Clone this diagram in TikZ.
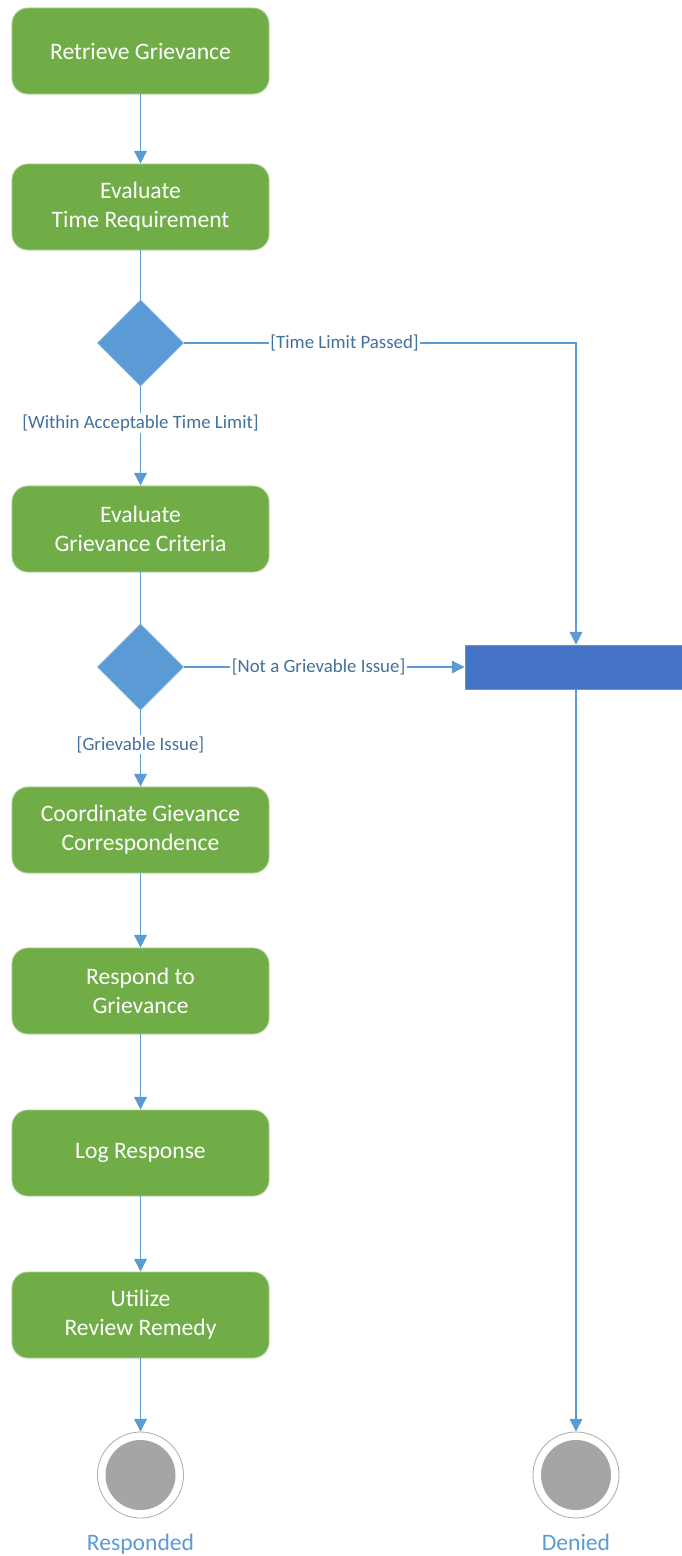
\documentclass[tikz,border=0pt]{standalone}
\usepackage{fontspec}
\setmainfont{Carlito}
\usetikzlibrary{shapes.geometric, arrows.meta, positioning, calc}
\usepackage{xcolor}
\definecolor{ActGreen}{HTML}{70AD47}
\definecolor{ActGreenEdge}{HTML}{A9D18E}
\definecolor{ActBlue}{HTML}{5B9BD5}
\definecolor{ActDarkBlue}{HTML}{4472C4}
\definecolor{ActLabel}{HTML}{41719C}
\definecolor{ActGray}{HTML}{A5A5A5}
\definecolor{ActRing}{HTML}{AFAFAF}
\tikzset{
    % Box styles
    activity/.style={
        rectangle,
        rounded corners=0.4cm,
        draw=ActGreenEdge,
        fill=ActGreen,
        line width=0.6pt,
        minimum width=6.425cm,
        minimum height=2.15cm,
        align=center,
        text=white,
        font=\fontsize{16.8}{20.6}\selectfont
    },
    decision/.style={
        diamond,
        draw=ActBlue!80,
        fill=ActBlue,
        minimum width=2.15cm,
        minimum height=2.15cm,
        inner sep=0pt
    },
    forkbar/.style={
        rectangle,
        draw=ActBlue,
        fill=ActDarkBlue,
        line width=0.6pt,
        minimum width=5.425cm,
        minimum height=1.1cm,
        inner sep=0pt
    },
    endstate/.style={
        circle,
        draw=ActRing,
        fill=white,
        line width=0.6pt,
        minimum size=2.15cm,
        inner sep=0pt,
        path picture={\fill[ActGray] (path picture bounding box.center) circle (0.875cm);}
    },
    endtext/.style={
        anchor=base,
        text=ActBlue,
        font=\fontsize{16.8}{20.6}\selectfont
    },
    guard/.style={
        fill=white,
        text=ActLabel,
        inner sep=1pt,
        font=\fontsize{13.4}{16}\selectfont
    },
    % Arrow styles
    arrow/.style={
        -{Triangle[width=9pt, length=9pt]},
        line width=0.75pt,
        draw=ActBlue
    },
    line/.style={
        line width=0.75pt,
        draw=ActBlue
    }
}
\begin{document}
\begin{tikzpicture}[x=0.025cm, y=-0.025cm]
    \useasboundingbox (0,0) rectangle (682,1556);

    \node[activity] (retrieve) at (140.5,51) {Retrieve Grievance};
    \node[activity] (evaltime) at (140.5,207) {Evaluate\\Time Requirement};
    \node[decision] (timecheck) at (140.5,343) {};
    \node[activity] (evalcrit) at (140.5,529) {Evaluate\\Grievance Criteria};
    \node[decision] (critcheck) at (140.5,667) {};
    \node[forkbar] (deny) at (573.5,667) {};
    \node[activity] (coord) at (140.5,830) {Coordinate Gievance\\Correspondence};
    \node[activity] (respond) at (140.5,991) {Respond to\\Grievance};
    \node[activity] (logresp) at (140.5,1153) {Log Response};
    \node[activity] (remedy) at (140.5,1315) {Utilize\\Review Remedy};

    \node[endstate] (responded) at (140.5,1475) {};
    \node[endstate] (denied) at (576,1475) {};
    \node[endtext] (respondedtext) at (140.5,1550) {Responded};
    \node[endtext] (deniedtext) at (576,1550) {Denied};

    \draw[arrow] (retrieve) -- (evaltime);
    \draw[line] (evaltime) -- (timecheck);
    \draw[arrow] (timecheck) -- node[guard, pos=0.37] {[Within Acceptable Time Limit]} (evalcrit);
    \draw[arrow] (timecheck) -- node[guard, pos=0.41] {[Time Limit Passed]} (timecheck -| denied) -- (deny.north -| denied);
    \draw[line] (evalcrit) -- (critcheck);
    \draw[arrow] (critcheck) -- node[guard, pos=0.48] {[Not a Grievable Issue]} (deny);
    \draw[arrow] (critcheck) -- node[guard, pos=0.45] {[Grievable Issue]} (coord);
    \draw[arrow] (coord) -- (respond);
    \draw[arrow] (respond) -- (logresp);
    \draw[arrow] (logresp) -- (remedy);
    \draw[arrow] (remedy) -- (responded);
    \draw[arrow] (deny.south -| denied) -- (denied);
\end{tikzpicture}
\end{document}
